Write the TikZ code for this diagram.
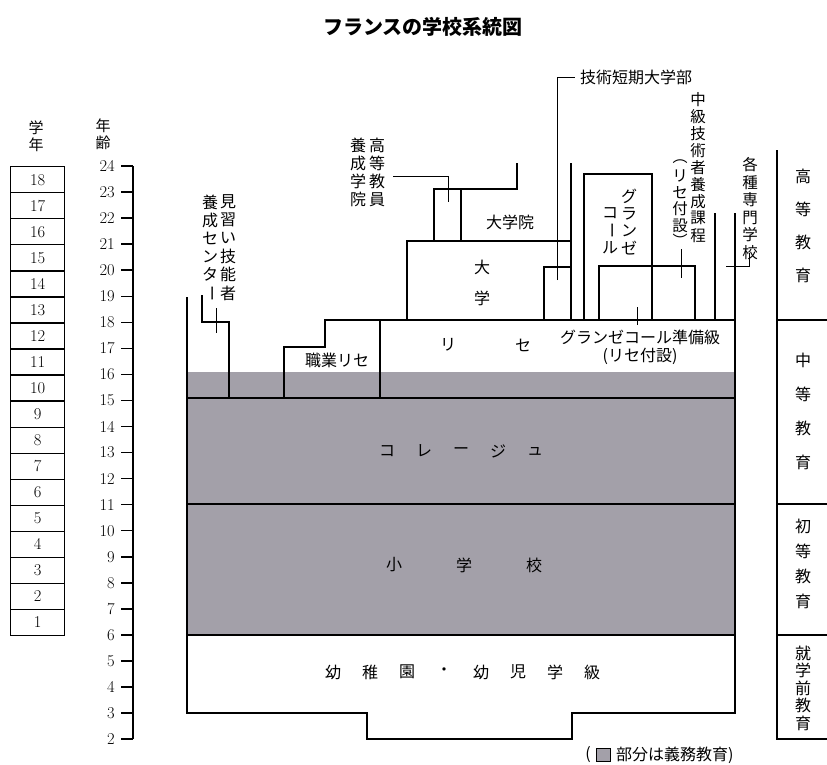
\documentclass[tikz,border=0pt]{standalone}
\usepackage{fontspec}
\newfontfamily\jp{Noto Sans CJK JP}
\definecolor{shadecol}{RGB}{163,160,169}
\newcommand\vbarchar{\rotatebox[origin=c]{-90}{ー}}
\newcommand\vstack[6]{%
  \foreach \ch [count=\i] in {#6}{\node[jt,font=\jp\fontsize{#5}{#5}\selectfont] (#1\i) at (#2,{#3+(\i-1)*#4}) {\ch};}}
\newcommand\hspread[6]{%
  \foreach \ch [count=\i] in {#6}{\node[jt,font=\jp\fontsize{#5}{#5}\selectfont] (#1\i) at ({#2+(\i-1)*#4},#3) {\ch};}}
\tikzset{
  jt/.style={inner sep=0pt},
  ln/.style={line width=1.5pt, line join=miter},
  lead/.style={line width=0.9pt},
  num/.style={inner sep=0pt, font=\fontsize{16.5}{16.5}\selectfont},
  gbox/.style={draw, line width=1.3pt, minimum width=54pt, minimum height=26.05pt, inner sep=0pt, anchor=north west, font=\fontsize{16.5}{16.5}\selectfont},
  htxt/.style={inner sep=0pt, font=\jp\fontsize{16}{16}\selectfont}
}
\begin{document}
\begin{tikzpicture}[x=1pt,y=-1pt]
\useasboundingbox (0,0) rectangle (827,764);
% title
\node[inner sep=0pt, font=\jp\bfseries\fontsize{20}{20}\selectfont] (title) at (423,27) {フランスの学校系統図};
% headers
\vstack{hg}{36}{128}{17}{15}{学,年}
\vstack{ha}{103}{126}{17}{15}{年,齢}
% grade boxes
\foreach \g in {1,...,18}{
  \pgfmathsetmacro\yt{166+(18-\g)*26.05}
  \node[gbox] (g\g) at (10,\yt) {\g};
}
% age axis
\draw[ln] (133,166) coordinate (axtop) -- (133,739) coordinate (axbot);
\foreach \a in {2,...,24}{
  \pgfmathsetmacro\yy{166+(24-\a)*26.05}
  \draw[ln] (121,\yy) -- (133,\yy);
  \node[num, anchor=east] (a\a) at (115,\yy) {\a};
}
% compulsory shading
\fill[shadecol] (187,372) rectangle (735,635);
% outer outline
\draw[ln] (187,297) -- (187,713) -- (367,713) -- (367,739) -- (572,739) -- (572,713) -- (735,713) -- (735,213);
\draw[ln] (187,398) -- (735,398);
\draw[ln] (187,504) -- (735,504);
\draw[ln] (187,635) -- (735,635);
% apprentice centre
\draw[ln] (202,295) -- (202,322) -- (229,322) -- (229,398);
\draw[lead] (216,308) -- (216,333);
% vocational lycee + lycee top
\draw[ln] (284,398) -- (284,347) -- (325,347) -- (325,320) -- (735,320);
\draw[ln] (380,320) -- (380,398);
% university
\draw[ln] (407,320) -- (407,241) -- (571,241);
\draw[ln] (434,241) -- (434,189) -- (517,189) -- (517,163);
\draw[ln] (461,189) -- (461,241);
\draw[lead] (393,176) -- (448,176) -- (448,202);
\draw[ln] (571,163) -- (571,320);
% IUT
\draw[ln] (544,320) -- (544,267) -- (571,267);
\draw[lead] (557,280) -- (557,77) -- (575,77);
% grandes ecoles
\draw[ln] (584,320) -- (584,174) -- (652,174) -- (652,320);
\draw[ln] (599,320) -- (599,266) -- (695,266) -- (695,320);
\draw[lead] (637,307) -- (637,325);
\draw[lead] (681,249) -- (681,278);
\draw[ln] (715,213) -- (715,320);
\draw[lead] (726,266) -- (749,266) -- (749,253);
% right column
\draw[ln] (777,150) -- (777,739) -- (827,739);
\draw[ln] (777,320) -- (827,320);
\draw[ln] (777,504) -- (827,504);
\draw[ln] (777,635) -- (827,635);
% vertical labels
\vstack{mA}{228}{202}{18.2}{16}{見,習,い,技,能,者}
\vstack{mB}{210}{202}{18.2}{16}{養,成,セ,ン,タ,{\vbarchar}}
\vstack{kA}{377}{145}{18.3}{16}{高,等,教,員}
\vstack{kB}{358}{145}{18.3}{16}{養,成,学,院}
\vstack{geA}{629}{196}{17.5}{16}{グ,ラ,ン,ゼ}
\vstack{geB}{610}{213}{17.5}{16}{コ,{\vbarchar},ル}
\vstack{cA}{698}{100}{16.9}{15.5}{中,級,技,術,者,養,成,課,程}
\node[jt, font=\jp\fontsize{15}{15}\selectfont] (cp1) at (680,162) {︵};
\vstack{cB}{680}{176}{16.5}{15.5}{リ,セ,付,設}
\node[jt, font=\jp\fontsize{15}{15}\selectfont] (cp2) at (680,240) {︶};
\vstack{sp}{750}{165}{17.5}{15.5}{各,種,専,門,学,校}
\vstack{dg}{482}{267}{31}{16}{大,学}
\vstack{r1}{803}{176}{33}{16}{高,等,教,育}
\vstack{r2}{803}{360}{34}{16}{中,等,教,育}
\vstack{r3}{803}{526}{25}{16}{初,等,教,育}
\vstack{r4}{803}{653}{17.5}{16}{就,学,前,教,育}
% horizontal labels
\node[htxt] (iut) [anchor=west] at (580,77) {技術短期大学部};
\node[htxt] (dgi) at (510,222) {大学院};
\node[htxt] (lp) at (337,360) {職業リセ};
\node[htxt] (ly1) at (448,345) {リ};
\node[htxt] (ly2) at (523,345) {セ};
\node[htxt] (cpge1) at (640,337) {グランゼコール準備級};
\node[htxt] (cpge2) at (640,356) {(リセ付設)};
\hspread{col}{387}{451}{37}{16}{コ,レ,ー,ジ,ュ}
\hspread{ele}{394}{565}{70}{16}{小,学,校}
\hspread{mat}{333}{672}{37}{16}{幼,稚,園,・,幼,児,学,級}
% legend
\node[htxt] (lg1) at (588,755) {(};
\draw[line width=0.6pt, fill=shadecol] (596,748) rectangle (610,761);
\node[htxt, anchor=west] (lg2) at (616,755) {部分は義務教育)};
\end{tikzpicture}
\end{document}
